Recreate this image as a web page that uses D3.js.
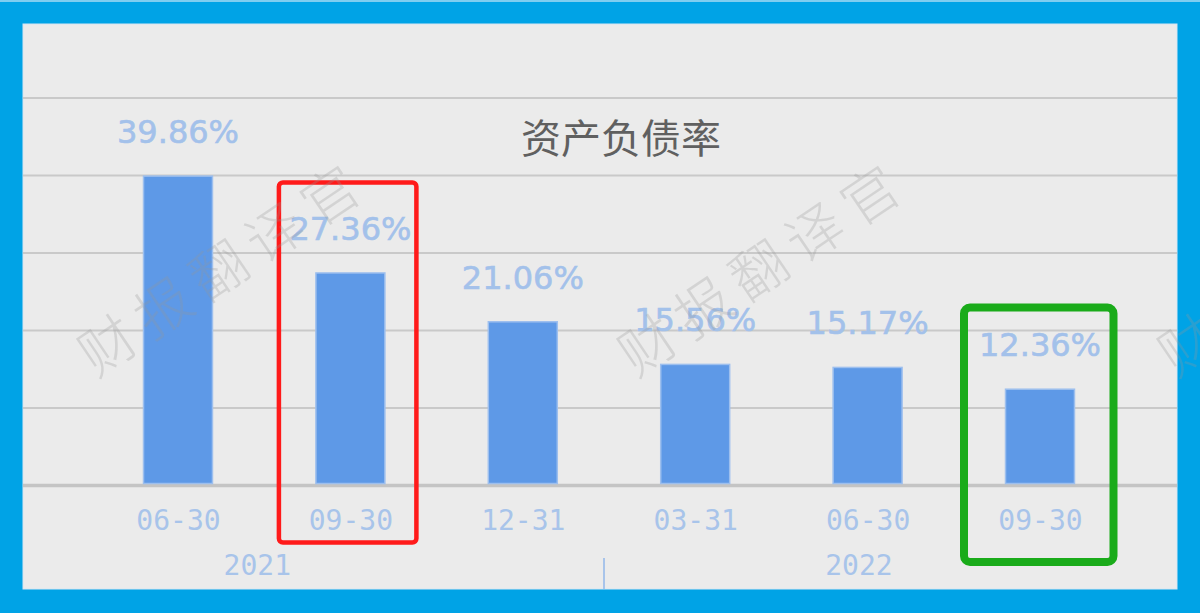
<!DOCTYPE html>
<html><head><meta charset="utf-8">
<script src="https://cdn.jsdelivr.net/npm/d3@7/dist/d3.min.js"></script>
<style>html,body{margin:0;padding:0;background:#00a3e6;}svg{display:block;}</style>
</head><body>
<svg id="c" width="1200" height="613"></svg>
<script>
const title = "资产负债率";
const categories = ["06-30", "09-30", "12-31", "03-31", "06-30 ", "09-30 "];
const tickLabels = ["06-30", "09-30", "12-31", "03-31", "06-30", "09-30"];
const values = [39.86, 27.36, 21.06, 15.56, 15.17, 12.36];
const years = ["2021", "2022"];
const yearGroups = [[0, 1, 2], [3, 4, 5]];
const gridTicks = [0, 10, 20, 30, 40, 50];
const highlightRed = [1];
const highlightGreen = [5];
const watermark = "财报翻译官";

const svg = d3.select("#c");
const W = 1200, H = 613;
svg.append("rect").attr("width", W).attr("height", H).attr("fill", "#00a3e6");
svg.append("rect").attr("width", W).attr("height", 2).attr("fill", "#7fcdf0");
const P = {x: 23, y: 24, w: 1154, h: 565};
svg.append("rect").attr("x", P.x).attr("y", P.y).attr("width", P.w).attr("height", P.h)
  .attr("fill", "#ebebeb").attr("stroke", "#d6e6f2").attr("stroke-width", 1);

const x = d3.scalePoint().domain(categories).range([91.8, 1126.2]).padding(0.5);
const step = x.step();
const bw = step * 0.4;
const y = d3.scaleLinear().domain([0, 50]).range([485, 97.5]);

const yAxis = d3.axisLeft(y).tickValues(gridTicks).tickSize(-P.w).tickFormat("");
const ga = svg.append("g").attr("transform", `translate(${P.x},0)`).call(yAxis);
ga.select(".domain").remove();
ga.selectAll(".tick line").attr("stroke", d => d === 0 ? "#c4c4c4" : "#c9c9c9")
  .attr("stroke-width", d => d === 0 ? 3.5 : 2);

svg.append("text").attr("x", 621).attr("y", 153).attr("text-anchor", "middle")
  .attr("font-family", "'Noto Sans CJK SC', sans-serif").attr("font-size", 40)
  .attr("fill", "#606060").text(title);

svg.append("g").selectAll("rect").data(values).join("rect")
  .attr("x", (d, i) => x(categories[i]) - bw / 2)
  .attr("y", d => y(d))
  .attr("width", bw)
  .attr("height", d => y(0) - 1.5 - y(d))
  .attr("fill", "#5e99e7")
  .attr("stroke", "#9dbfee").attr("stroke-width", 1.5);

svg.append("g").selectAll("text").data(values).join("text")
  .attr("x", (d, i) => x(categories[i]))
  .attr("y", d => y(d) - 33)
  .attr("text-anchor", "middle")
  .attr("font-family", "'DejaVu Sans', Verdana, sans-serif").attr("font-size", 32)
  .attr("fill", "#a3c1ea").attr("stroke", "#a3c1ea").attr("stroke-width", 0.6)
  .text(d => d3.format(".2f")(d) + "%");

const xAxis = d3.axisBottom(x).tickSize(0).tickPadding(0).tickFormat((d, i) => tickLabels[i]);
const gx = svg.append("g").attr("transform", "translate(0,510)").call(xAxis);
gx.select(".domain").remove();
gx.selectAll("text").attr("font-family", "'DejaVu Sans Mono', monospace").attr("font-size", 28)
  .attr("fill", "#a8c4ea").attr("dy", "0.7em");

const yearX = [x(categories[yearGroups[0][0]]) + step * 0.46, x(categories[yearGroups[1][0]]) + step * 0.95];
svg.append("g").selectAll("text").data(years).join("text")
  .attr("x", (d, i) => yearX[i]).attr("y", 575).attr("text-anchor", "middle")
  .attr("font-family", "'DejaVu Sans Mono', monospace").attr("font-size", 28)
  .attr("fill", "#a8c4ea").text(d => d);
const sepX = (x(categories[yearGroups[0][2]]) + x(categories[yearGroups[1][0]])) / 2 - 5;
svg.append("line").attr("x1", sepX).attr("x2", sepX).attr("y1", 558).attr("y2", P.y + P.h)
  .attr("stroke", "#a8c4ea").attr("stroke-width", 2);

highlightRed.forEach(i => {
  const cx = x(categories[i]);
  svg.append("rect").attr("x", cx - 71.5).attr("y", 182.5).attr("width", 137.5).attr("height", 360)
    .attr("rx", 4).attr("fill", "none").attr("stroke", "#ff1a1a").attr("stroke-width", 4.5);
});
highlightGreen.forEach(i => {
  const cx = x(categories[i]);
  svg.append("rect").attr("x", cx - 76).attr("y", 307.5).attr("width", 149.5).attr("height", 254.5)
    .attr("rx", 6).attr("fill", "none").attr("stroke", "#1aab1a").attr("stroke-width", 8);
});

[0, 1, 2].forEach(k => {
  svg.append("text")
    .attr("transform", `translate(${96 + k * 540},378) rotate(-34)`)
    .attr("font-family", "'Noto Sans CJK SC', sans-serif").attr("font-weight", 300)
    .attr("font-size", 56).attr("letter-spacing", 11)
    .attr("fill", "rgba(150,150,150,0.28)").text(watermark);
});
</script>
</body></html>
